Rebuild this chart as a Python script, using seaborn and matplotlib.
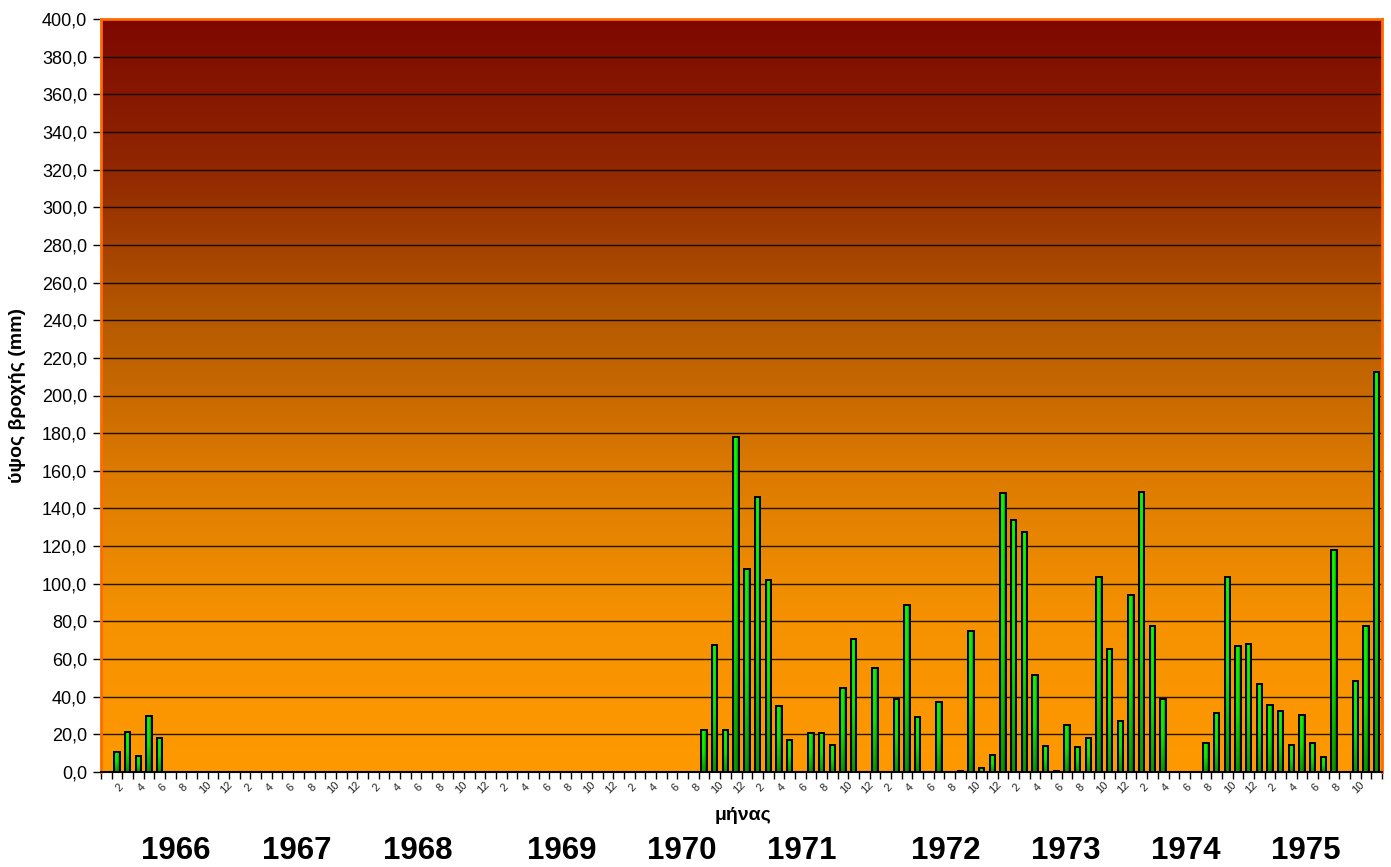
import numpy as np
import pandas as pd
import matplotlib
matplotlib.use("Agg")
import matplotlib.pyplot as plt
import matplotlib.transforms as mtransforms
from matplotlib.ticker import FixedLocator, NullFormatter
import seaborn as sns

# ---- data: monthly rainfall (mm), None = no record for that month ----
years = list(range(1966, 1976))
month_numbers = list(range(1, 13))
N = None
rain_1966 = [N, 10.8, 21.0, 8.5, 30.0, 18.0, N, N, N, N, N, N]
rain_1967 = [N, N, N, N, N, N, N, N, N, N, N, N]
rain_1968 = [N, N, N, N, N, N, N, N, N, N, N, N]
rain_1969 = [N, N, N, N, N, N, N, N, N, N, N, N]
rain_1970 = [N, N, N, N, N, N, N, N, 22.3, 67.5, 22.3, 178.1]
rain_1971 = [107.7, 146.3, 102.0, 35.1, 17.0, N, 20.5, 20.9, 14.3, 44.4, 70.5, N]
rain_1972 = [55.5, N, 38.6, 88.7, 29.4, N, 37.4, N, 0.4, 75.1, 1.9, 8.8]
rain_1973 = [148.4, 133.9, 127.7, 51.5, 13.8, 0.5, 25.0, 13.5, 18.2, 103.8, 65.3, 27.3]
rain_1974 = [93.9, 148.9, 77.7, 38.6, N, N, N, 15.6, 31.3, 103.4, 66.9, 67.8]
rain_1975 = [46.6, 35.6, 32.2, 14.3, 30.3, 15.4, 7.8, 117.9, N, 48.3, 77.7, 212.5]
yearly = [rain_1966, rain_1967, rain_1968, rain_1969, rain_1970,
          rain_1971, rain_1972, rain_1973, rain_1974, rain_1975]

y_ticks = list(range(0, 401, 20))
year_label_px = [176, 297, 418, 562, 682, 802, 946, 1066, 1186, 1306]

rows = []
for yr, vals in zip(years, yearly):
    for m, v in zip(month_numbers, vals):
        rows.append({"key": f"{yr}-{m:02d}", "year": yr, "month": m,
                     "rain": np.nan if v is None else v})
df = pd.DataFrame(rows)
order = df["key"].tolist()
n_cat = len(order)

# ---- style ----
sns.set_style("white")
plt.rcParams["font.family"] = ["Liberation Sans", "DejaVu Sans"]
plt.rcParams["text.color"] = "black"
plt.rcParams["axes.labelcolor"] = "black"
plt.rcParams["xtick.color"] = "black"
plt.rcParams["ytick.color"] = "black"

W, H = 1391, 867
fig = plt.figure(figsize=(W / 100, H / 100), dpi=100)
ax = fig.add_axes([101 / W, 1 - 772 / H, (1382 - 101) / W, (772 - 19) / H])

sns.barplot(data=df, x="key", y="rain", order=order, width=0.5,
            color="#00e000", edgecolor="black", linewidth=1.4,
            errorbar=None, ax=ax, zorder=3)

ax.set_xlim(-0.5, n_cat - 0.5)
ax.set_ylim(0, 400)

# plot-area background: dark red at the top fading to orange at the base
stops_v = [400, 320, 240, 160, 80, 0]
stops_c = np.array([[125, 8, 0], [145, 40, 0], [182, 90, 0],
                    [220, 122, 0], [246, 146, 0], [255, 153, 0]]) / 255.0
vals = np.linspace(400, 0, 400)
bg = np.stack([np.interp(vals, stops_v[::-1], stops_c[::-1, k]) for k in range(3)], axis=-1)
bg = np.repeat(bg[:, None, :], 2, axis=1)
ax.imshow(bg, extent=(-0.5, n_cat - 0.5, 0, 400), aspect="auto",
          zorder=-1, interpolation="bilinear")

# shaded green fill for every bar
nx, ny = 24, 96
hx = np.interp(np.linspace(0, 1, nx), [0, 0.3, 0.55, 1], [0.6, 1.0, 0.95, 0.45])
vy = np.interp(np.linspace(0, 1, ny), [0, 0.5, 1], [1.0, 0.95, 0.62])
shade = vy[:, None] * hx[None, :]
bar_img = np.zeros((ny, nx, 3))
bar_img[..., 1] = shade
bar_img[..., 0] = 0.06 * shade
for p in list(ax.patches):
    h = p.get_height()
    if not np.isfinite(h) or h <= 0:
        continue
    x0 = p.get_x()
    w = p.get_width()
    ax.imshow(bar_img, extent=(x0, x0 + w, 0, h), aspect="auto",
              zorder=2.9, interpolation="bilinear")
    p.set_facecolor("none")
    p.set_zorder(3)
ax.set_xlim(-0.5, n_cat - 0.5)
ax.set_ylim(0, 400)

# grid
ax.set_axisbelow(True)
ax.yaxis.grid(True, color="black", linewidth=1.0, alpha=0.85)
ax.xaxis.grid(False)

# y axis
ax.yaxis.set_major_locator(FixedLocator(y_ticks))
ax.set_yticklabels([f"{v:.1f}".replace(".", ",") for v in y_ticks])
ax.tick_params(axis="y", which="major", direction="out", length=6, width=1,
               color="black", labelsize=13, pad=4, left=True, labelcolor="black")

# x axis: tick marks between months, labels at even months
ax.xaxis.set_major_locator(FixedLocator(np.arange(n_cat + 1) - 0.5))
ax.xaxis.set_major_formatter(NullFormatter())
label_pos = [i for i, m in enumerate(df["month"]) if m % 2 == 0 and i < n_cat - 1]
ax.xaxis.set_minor_locator(FixedLocator(label_pos))
ax.set_xticklabels([str(df["month"].iloc[i]) for i in label_pos], minor=True)
ax.tick_params(axis="x", which="major", direction="out", length=5, width=1,
               color="black", bottom=True)
ax.tick_params(axis="x", which="minor", length=0, labelsize=8, pad=11,
               labelcolor="#222222")
shift = mtransforms.ScaledTranslation(3 / 100, 0, fig.dpi_scale_trans)
for lab in ax.get_xticklabels(minor=True):
    lab.set_rotation(45)
    lab.set_ha("center")
    lab.set_va("center")
    lab.set_transform(lab.get_transform() + shift)

ax.set_xlabel("")
ax.set_ylabel("ύψος βροχής (mm)", fontsize=14, fontweight="bold")
ax.yaxis.set_label_coords((18 - 101) / (1382 - 101), 0.5)
ax.yaxis.label.set_va("center")

fig.text(743 / W, 1 - 816 / H, "μήνας", fontsize=14, fontweight="bold",
         ha="center", va="center")

for yr, px in zip(years, year_label_px):
    fig.text(px / W, 1 - 851 / H, str(yr), fontsize=22.5, fontweight="bold",
             ha="center", va="center")

# plot-area border
for side in ("top", "left", "right"):
    ax.spines[side].set_visible(True)
    ax.spines[side].set_color("#ff6a00")
    ax.spines[side].set_linewidth(2.0)
ax.spines["bottom"].set_color("black")
ax.spines["bottom"].set_linewidth(1.5)

fig.savefig("out.png", dpi=100, facecolor="white")
